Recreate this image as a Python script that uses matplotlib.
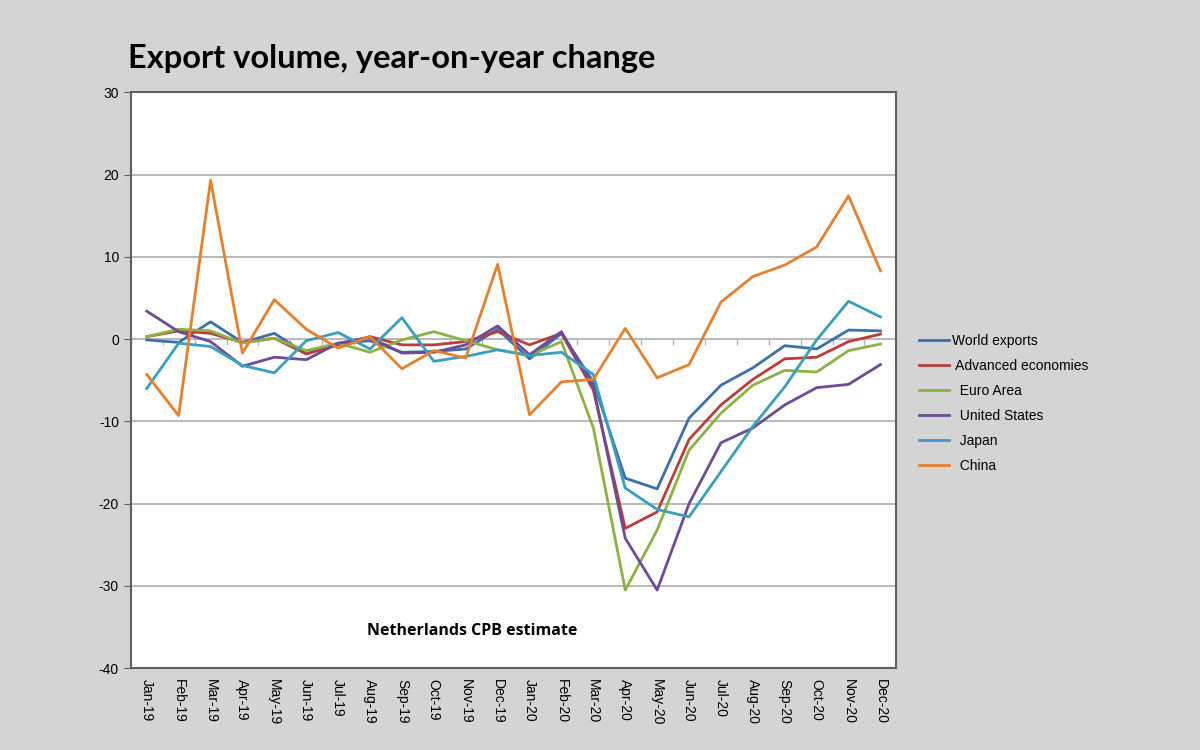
import numpy as np
import matplotlib
matplotlib.use("Agg")
import matplotlib.pyplot as plt

months = ["Jan-19", "Feb-19", "Mar-19", "Apr-19", "May-19", "Jun-19",
          "Jul-19", "Aug-19", "Sep-19", "Oct-19", "Nov-19", "Dec-19",
          "Jan-20", "Feb-20", "Mar-20", "Apr-20", "May-20", "Jun-20",
          "Jul-20", "Aug-20", "Sep-20", "Oct-20", "Nov-20", "Dec-20"]

world = [-0.1, -0.4, 2.1, -0.4, 0.7, -1.8, -0.5, -0.2, -1.6, -1.5, -1.2, 1.2,
         -2.4, 0.7, -5.2, -16.9, -18.2, -9.6, -5.6, -3.5, -0.8, -1.2, 1.1, 1.0]
advanced = [0.3, 1.0, 0.7, -0.4, 0.1, -1.8, -0.7, 0.3, -0.7, -0.7, -0.3, 0.9,
            -0.7, 0.7, -6.2, -23.0, -21.0, -12.2, -8.0, -4.9, -2.4, -2.2, -0.3, 0.6]
euro = [0.3, 1.2, 1.0, -0.5, 0.1, -1.4, -0.5, -1.6, -0.1, 0.9, -0.2, -1.3,
        -2.0, -0.3, -10.8, -30.5, -23.2, -13.5, -9.0, -5.6, -3.8, -4.0, -1.4, -0.6]
us = [3.4, 0.9, -0.3, -3.3, -2.2, -2.5, -0.5, 0.2, -1.7, -1.6, -0.7, 1.6,
      -1.9, 0.9, -5.8, -24.2, -30.5, -20.0, -12.6, -10.8, -8.0, -5.9, -5.5, -3.1]
japan = [-6.0, -0.5, -0.9, -3.2, -4.1, -0.2, 0.8, -1.2, 2.6, -2.7, -2.1, -1.3,
         -2.0, -1.6, -4.3, -18.1, -20.7, -21.6, -16.1, -10.6, -5.8, -0.1, 4.6, 2.7]
china = [-4.3, -9.3, 19.3, -1.7, 4.8, 1.2, -1.1, 0.3, -3.6, -1.4, -2.3, 9.1,
         -9.2, -5.2, -4.9, 1.3, -4.7, -3.1, 4.5, 7.6, 9.0, 11.2, 17.4, 8.3]

series = [("World exports", world, "#3d6eae"),
          (" Advanced economies", advanced, "#b83d3b"),
          ("  Euro Area", euro, "#8db143"),
          ("  United States", us, "#6d4b95"),
          ("  Japan", japan, "#3a9ebd"),
          ("  China", china, "#e5802d")]


def main():
    plt.rcParams['font.family'] = ['Liberation Sans', 'DejaVu Sans']
    plt.rcParams['axes.unicode_minus'] = False
    bg = "#d4d4d4"
    fig = plt.figure(figsize=(12, 7.5), dpi=100, facecolor=bg)
    ax = fig.add_axes([0.109, 0.109, 0.638, 0.768])
    ax.set_facecolor("white")

    x = np.arange(len(months))
    for name, vals, col in series:
        ax.plot(x, vals, color=col, lw=2.0, label=name)

    ax.set_xlim(-0.5, len(months) - 0.5)
    ax.set_ylim(-40, 30)
    ax.set_yticks(np.arange(-40, 31, 10))
    ax.set_xticks(x)
    ax.set_xticklabels(months, rotation=270, fontsize=10)
    ax.tick_params(axis='x', length=0, pad=8)
    ax.tick_params(axis='y', length=5, direction='out', labelsize=10,
                   color="#606060")
    for y in range(-30, 30, 10):
        ax.axhline(y, color="#b4b4b4", lw=1.3, zorder=0)
    for sp in ax.spines.values():
        sp.set_color("#606060")
        sp.set_linewidth(1.5)

    # category tick marks sitting on the zero line
    sec = ax.secondary_xaxis(40 / 70)
    sec.set_xticks(np.arange(-0.5, len(months), 1.0))
    sec.set_xticklabels([])
    sec.tick_params(length=4, direction='in', color="#b4b4b4", width=1.0)
    for sp in sec.spines.values():
        sp.set_visible(False)

    ax.text(10.2, -35.5, "Netherlands CPB estimate", fontsize=11.5,
            fontweight='bold', family=['Open Sans', 'DejaVu Sans'],
            ha='center', va='center')

    fig.text(0.107, 0.922, "Export volume, year-on-year change", fontsize=23.5,
             fontweight='bold', family=['Lato', 'DejaVu Sans'],
             ha='left', va='center')

    ax.legend(loc='center left', bbox_to_anchor=(1.0, 0.46), frameon=False,
              fontsize=10, handlelength=2.2, labelspacing=0.8,
              handletextpad=0.2, borderaxespad=1.2)

    fig.savefig("out.png", dpi=100, facecolor=bg)


if __name__ == "__main__":
    main()
